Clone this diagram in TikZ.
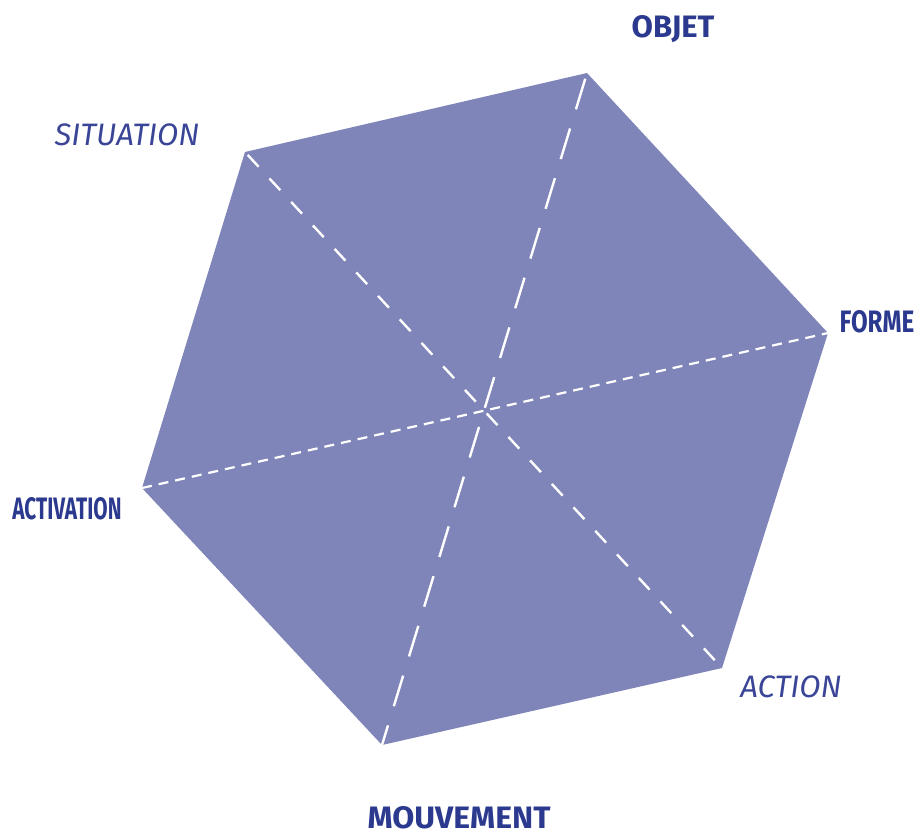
\documentclass[tikz,border=0pt]{standalone}
\usepackage{fontspec}
\setmainfont{Fira Sans}
\definecolor{hexfill}{HTML}{7F85B9}
\definecolor{labblue}{HTML}{2B3A8E}
\definecolor{labital}{HTML}{3A4597}
\tikzset{
  boldlab/.style={text=labblue, font=\fontsize{31}{31}\selectfont\bfseries, inner sep=0pt},
  itallab/.style={text=labital, font=\fontsize{31}{31}\selectfont\itshape, inner sep=0pt},
  diag/.style={draw=white, line width=2.4pt},
}
\begin{document}
\begin{tikzpicture}[x=1pt,y=-1pt]
\useasboundingbox (0,0) rectangle (915,836);
\coordinate (O) at (587,73);
\coordinate (F) at (828,333);
\coordinate (AC) at (722,668);
\coordinate (M) at (382,745);
\coordinate (AV) at (142,488);
\coordinate (S) at (245,152);
\fill[hexfill] (O) -- (F) -- (AC) -- (M) -- (AV) -- (S) -- cycle;
\draw[diag, dash pattern=on 32pt off 20pt, dash phase=-6pt] (O) -- (M);
\draw[diag, dash pattern=on 16pt off 16pt, dash phase=-4pt] (S) -- (AC);
\draw[diag, line width=2.2pt, dash pattern=on 10pt off 7pt] (AV) -- (F);
\node[boldlab] (lo) at (673,29) {OBJET};
\node[boldlab, xscale=0.78] (lf) at (877,322) {FORME};
\node[boldlab, xscale=0.67] (lav) at (67,509) {ACTIVATION};
\node[boldlab, xscale=1.03] (lm) at (459,818) {MOUVEMENT};
\node[itallab] (ls) at (127,135) {SITUATION};
\node[itallab] (la) at (791,687) {ACTION};
\end{tikzpicture}
\end{document}
